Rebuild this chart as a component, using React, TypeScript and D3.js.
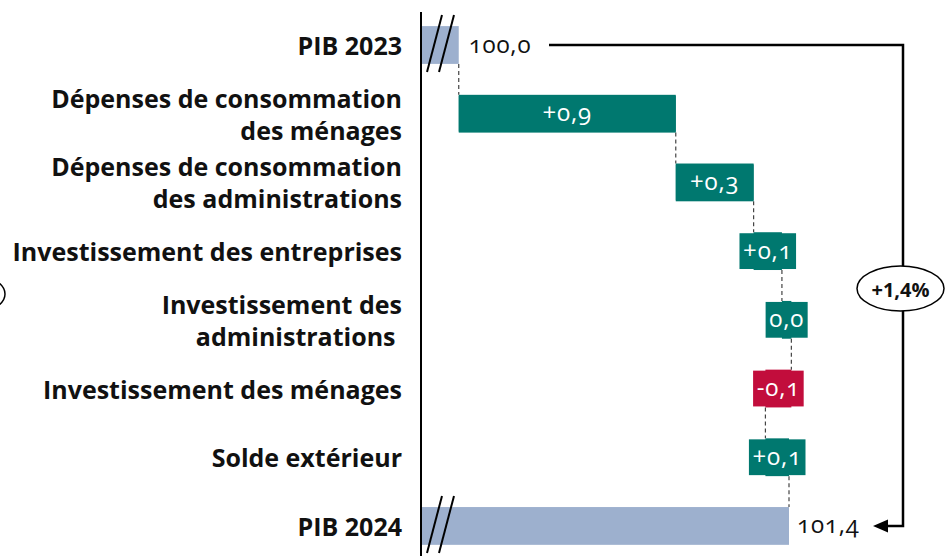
import React from "react";
import * as d3 from "d3";

const categories = [
  "PIB 2023",
  "Dépenses de consommation|des ménages",
  "Dépenses de consommation|des administrations",
  "Investissement des entreprises",
  "Investissement des|administrations\u00a0",
  "Investissement des ménages",
  "Solde extérieur",
  "PIB 2024",
];
const startValue = 100.0;
const endValue = 101.4;
const startLabel = "100,0";
const endLabel = "101,4";
const contributions = [0.92, 0.33, 0.12, 0.04, -0.11, 0.1];
const contributionLabels = ["+0,9", "+0,3", "+0,1", "0,0", "-0,1", "+0,1"];
const totalLabel = "+1,4%";

const W = 945;
const H = 556;
const TEAL = "#00786F";
const RED = "#C20D3C";
const BLUE = "#9DB0CE";
const FONT = "'Open Sans', Lato, sans-serif";
const VALUE_SIZE = 24;
const VALUE_SPACING = 0.8;
const VALUE_FONT = `${VALUE_SIZE}px 'Open Sans'`;

function measure(text: string, font: string): number {
  if (typeof document === "undefined") return text.length * 13;
  const c = document.createElement("canvas");
  const ctx = c.getContext("2d");
  if (!ctx) return text.length * 13;
  ctx.font = font;
  return ctx.measureText(text).width + VALUE_SPACING * text.length;
}

export default function App() {
  const x = d3.scaleLinear().domain([99.84, 101.4]).range([421, 789]);
  const y = d3
    .scaleBand<string>()
    .domain(categories)
    .range([10.65, 560.3])
    .paddingInner(0.45)
    .paddingOuter(0.225);
  const bw = y.bandwidth();

  const steps: { cat: string; from: number; to: number; v: number; label: string }[] = [];
  let cum = startValue;
  contributions.forEach((v, i) => {
    steps.push({ cat: categories[i + 1], from: cum, to: cum + v, v, label: contributionLabels[i] });
    cum += v;
  });

  const y0 = y(categories[0])!;
  const yEnd = y(categories[categories.length - 1])!;
  const axisX = x(99.84);

  const connectors: { xv: number; ya: number; yb: number }[] = [];
  connectors.push({ xv: x(startValue), ya: y0 + bw, yb: y(steps[0].cat)! });
  steps.forEach((s, i) => {
    const nextCat = i < steps.length - 1 ? steps[i + 1].cat : categories[categories.length - 1];
    connectors.push({ xv: x(s.to), ya: y(s.cat)! + bw, yb: y(nextCat)! });
  });

  const breakMarks = (yc: number) =>
    [0, 12].map((off, k) => (
      <line
        key={k}
        x1={axisX + 6 + off}
        y1={yc + 27}
        x2={axisX + 21 + off}
        y2={yc - 30}
        stroke="#000"
        strokeWidth={2}
      />
    ));

  const bracketX = 903;
  const yStartC = y0 + bw / 2;
  const yEndC = yEnd + bw / 2;
  const arrowTip = x(endValue) + 84;
  const lineStartX = 549;

  const numStyle: React.CSSProperties = {
    fontVariantNumeric: "oldstyle-nums",
    letterSpacing: `${VALUE_SPACING}px`,
  };

  return (
    <svg
      width={W}
      height={H}
      style={{ position: "absolute", left: 0, top: 0, background: "#fff" }}
      fontFamily={FONT}
    >
      <ellipse cx={-40} cy={294} rx={45} ry={22} fill="none" stroke="#000" strokeWidth={1.5} />

      {categories.map((c) => {
        const lines = c.split("|");
        const yc = y(c)! + bw / 2;
        const lh = 32;
        return (
          <text
            key={c}
            x={402}
            textAnchor="end"
            fontWeight="bold"
            fontSize={25}
            fill="#111"
            style={{ whiteSpace: "pre" }}
          >
            {lines.map((l, i) => (
              <tspan key={i} x={402} y={yc + (i - (lines.length - 1) / 2) * lh} dominantBaseline="central">
                {l}
              </tspan>
            ))}
          </text>
        );
      })}

      <rect x={axisX} y={y0} width={x(startValue) - axisX} height={bw} fill={BLUE} />
      <rect x={axisX} y={yEnd} width={x(endValue) - axisX} height={bw} fill={BLUE} />

      {connectors.map((c, i) => (
        <line
          key={i}
          x1={c.xv}
          x2={c.xv}
          y1={c.ya}
          y2={c.yb}
          stroke="#444"
          strokeWidth={1.2}
          strokeDasharray="4,3"
        />
      ))}

      {steps.map((s) => {
        const xa = x(Math.min(s.from, s.to));
        const xb = x(Math.max(s.from, s.to));
        const col = s.v < 0 ? RED : TEAL;
        const tw = measure(s.label, VALUE_FONT) + 6;
        const boxW = Math.max(xb - xa, tw);
        const cx = (xa + xb) / 2;
        const yt = y(s.cat)!;
        return (
          <g key={s.cat}>
            <rect x={xa} y={yt} width={xb - xa} height={bw} fill={col} />
            <rect x={cx - boxW / 2} y={yt + 1} width={boxW} height={bw - 2} fill={col} />
            <text
              x={cx}
              y={yt + bw / 2 - 2}
              textAnchor="middle"
              dominantBaseline="central"
              fill="#fff"
              fontSize={VALUE_SIZE}
              style={numStyle}
            >
              {s.label}
            </text>
          </g>
        );
      })}

      <line x1={axisX} x2={axisX} y1={12} y2={H} stroke="#000" strokeWidth={2} />

      {breakMarks(yStartC)}
      {breakMarks(yEndC)}

      <text x={x(startValue) + 10} y={yStartC - 2} dominantBaseline="central" fontSize={VALUE_SIZE} fill="#111" style={numStyle}>
        {startLabel}
      </text>
      <text x={x(endValue) + 8} y={yEndC - 2} dominantBaseline="central" fontSize={VALUE_SIZE} fill="#111" style={numStyle}>
        {endLabel}
      </text>

      <path
        d={`M${lineStartX},${yStartC} H${bracketX} V${yEndC} H${arrowTip + 12}`}
        fill="none"
        stroke="#000"
        strokeWidth={2.5}
      />
      <path
        d={`M${arrowTip},${yEndC} L${arrowTip + 15},${yEndC - 6.5} L${arrowTip + 15},${yEndC + 6.5} Z`}
        fill="#000"
      />
      <ellipse cx={900.5} cy={288.5} rx={43.5} ry={22.5} fill="#fff" stroke="#000" strokeWidth={1.5} />
      <text
        x={900.5}
        y={289}
        textAnchor="middle"
        dominantBaseline="central"
        fontWeight="bold"
        fontSize={20}
        fill="#111"
      >
        {totalLabel}
      </text>
    </svg>
  );
}
